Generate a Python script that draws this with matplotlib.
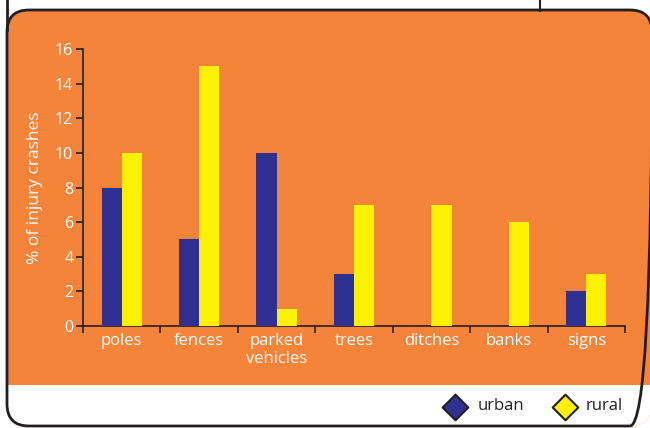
import numpy as np
import matplotlib
matplotlib.use("Agg")
import matplotlib.pyplot as plt
from matplotlib.patches import FancyBboxPatch, Rectangle

categories = ["poles", "fences", "parked\nvehicles", "trees", "ditches", "banks", "signs"]
urban = [8, 5, 10, 3, 0, 0, 2]
rural = [10, 15, 1, 7, 7, 6, 3]
yticks = [0, 2, 4, 6, 8, 10, 12, 14, 16]

ORANGE = "#F5843B"
BLUE = "#2E3192"
YELLOW = "#FFF200"
EDGE = "#231F20"

plt.rcParams['font.family'] = ['Open Sans', 'DejaVu Sans']

W, H = 650, 428
fig = plt.figure(figsize=(6.5, 4.28), dpi=100)

# background overlay in pixel coordinates
bg = fig.add_axes([0, 0, 1, 1])
bg.set_xlim(0, W)
bg.set_ylim(H, 0)
bg.axis('off')

box = FancyBboxPatch((7, 10), 645, 416, boxstyle="round,pad=0,rounding_size=22",
                     facecolor=ORANGE, edgecolor="none", zorder=1)
bg.add_patch(box)
white = Rectangle((0, 385), W, 60, facecolor="white", edgecolor="none", zorder=2)
bg.add_patch(white)
white.set_clip_path(box)
border = FancyBboxPatch((7, 10), 645, 416, boxstyle="round,pad=0,rounding_size=22",
                        facecolor="none", edgecolor=EDGE, linewidth=2, zorder=3)
bg.add_patch(border)
bg.plot([7, 7], [0, 30], color=EDGE, lw=2, zorder=3)
bg.plot([540, 540], [0, 11], color=EDGE, lw=1.5, zorder=3)

# legend
bg.scatter([455], [407], marker="D", s=170, facecolor=BLUE, edgecolor=EDGE, linewidth=1.5, zorder=4)
bg.text(478, 406, "urban", color=EDGE, fontsize=12, va="center", ha="left", zorder=4)
bg.scatter([565], [407], marker="D", s=170, facecolor=YELLOW, edgecolor=EDGE, linewidth=1.5, zorder=4)
bg.text(586, 406, "rural", color=EDGE, fontsize=12, va="center", ha="left", zorder=4)

# chart
ax = fig.add_axes([83 / W, (H - 326) / H, (625 - 83) / W, (326 - 49) / H])
ax.patch.set_alpha(0)
x = np.arange(len(categories))
bw = 0.26
ax.bar(x - bw / 2, urban, bw, color=BLUE, zorder=3)
ax.bar(x + bw / 2, rural, bw, color=YELLOW, zorder=3)

ax.set_xlim(-0.5, len(categories) - 0.5)
ax.set_ylim(0, 16)
ax.set_yticks(yticks)
ax.set_xticks(np.arange(len(categories) + 1) - 0.5)
ax.set_xticklabels([])
ax.set_xticks(x, minor=True)
ax.set_xticklabels(categories, minor=True, color="white", fontsize=12, linespacing=1.15)
ax.tick_params(axis='x', which='minor', length=0, pad=5)
ax.tick_params(axis='x', which='major', length=5, width=1.2, color=EDGE)
ax.tick_params(axis='y', length=5, width=1.2, color=EDGE, labelcolor="white", labelsize=11.5, pad=2)
for s in ["top", "right"]:
    ax.spines[s].set_visible(False)
for s in ["left", "bottom"]:
    ax.spines[s].set_color(EDGE)
    ax.spines[s].set_linewidth(1.2)
ax.set_ylabel("% of injury crashes", color="white", fontsize=12.5, labelpad=9)

fig.savefig("out.png", dpi=100)
